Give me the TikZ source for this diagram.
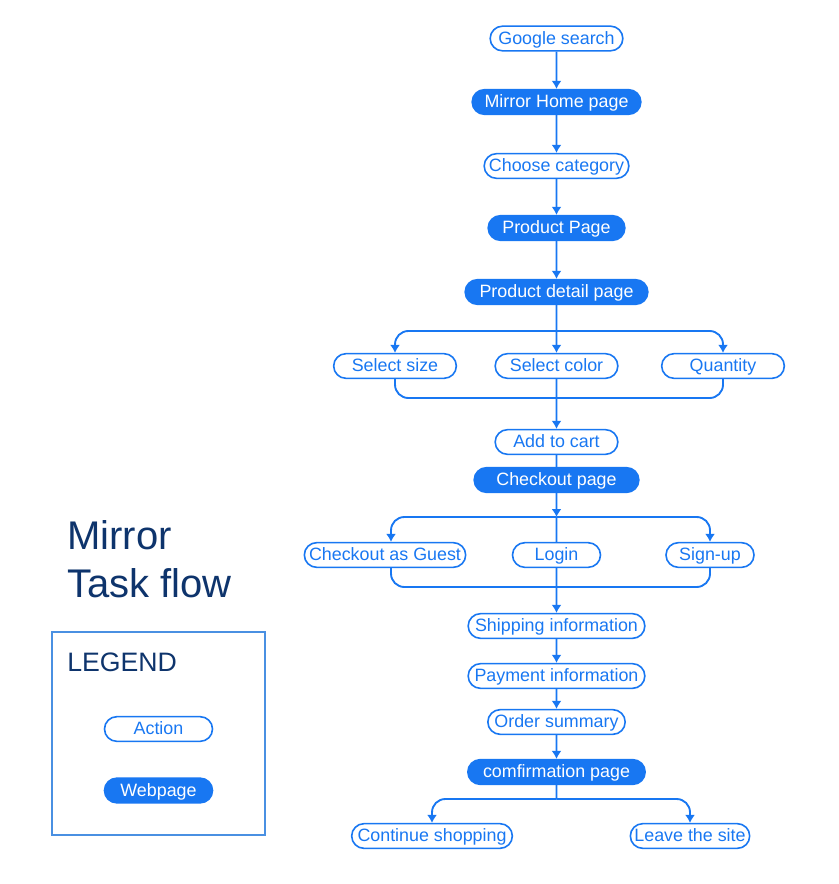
\documentclass[tikz,border=0pt]{standalone}
\usepackage{fontspec}
\setmainfont{Liberation Sans}
\usetikzlibrary{arrows.meta,shapes.misc}

\definecolor{flowblue}{RGB}{24,119,242}
\definecolor{navy}{RGB}{14,52,108}
\definecolor{legendblue}{RGB}{74,144,226}

\begin{document}
\begin{tikzpicture}[x=0.75pt,y=-0.75pt,>={Latex[length=6pt,width=7.5pt]},
    action/.style={rounded rectangle,draw=flowblue,line width=1.2pt,text=flowblue,
      font=\fontsize{13.4}{15}\selectfont,minimum height=18.5pt,inner xsep=2pt,inner ysep=0pt,
      text height=10.5pt,text depth=2pt},
    webpage/.style={action,fill=flowblue,text=white},
    flow/.style={->,flowblue,line width=1.4pt},
    link/.style={flowblue,line width=1.4pt,rounded corners=10pt}]

  \useasboundingbox (0,0) rectangle (838,884);

  % main column
  \node[action,minimum width=103.5pt] (gs) at (556.5,38.5) {Google search};
  \node[webpage,minimum width=130.5pt] (mhp) at (556.5,102) {Mirror Home page};
  \node[action,minimum width=112.5pt] (cc) at (556.5,166) {Choose category};
  \node[webpage,minimum width=106.5pt] (pp) at (556.5,228) {Product Page};
  \node[webpage,minimum width=141pt] (pdp) at (556.5,292) {Product detail page};

  \node[action,minimum width=96pt] (ss) at (395,366) {Select size};
  \node[action,minimum width=96pt] (sc) at (556.5,366) {Select color};
  \node[action,minimum width=96pt] (qt) at (723,366) {Quantity};

  \node[action,minimum width=96pt] (atc) at (556.5,442) {Add to cart};
  \node[webpage,minimum width=127.5pt] (cp) at (556.5,480) {Checkout page};

  \node[action,minimum width=125pt] (cg) at (385,555) {Checkout as Guest};
  \node[action,minimum width=70pt] (login) at (556.5,555) {Login};
  \node[action,minimum width=70pt] (su) at (710,555) {Sign-up};

  \node[action,minimum width=136.5pt] (ship) at (556.5,626) {Shipping information};
  \node[action,minimum width=136.5pt] (pay) at (556.5,676) {Payment information};
  \node[action,minimum width=107pt] (os) at (556.5,722) {Order summary};
  \node[webpage,minimum width=137pt] (conf) at (556.5,772) {comfirmation page};

  \node[action,minimum width=124.5pt] (cs) at (432,836) {Continue shopping};
  \node[action,minimum width=93.5pt] (lts) at (690,836) {Leave the site};

  \coordinate (split1) at (556.5,331);
  \coordinate (join1) at (556.5,398);
  \coordinate (split2) at (556.5,517);
  \coordinate (join2) at (556.5,587);
  \coordinate (split3) at (556.5,799);

  \path[flow]
    (gs) edge (mhp)
    (mhp) edge (cc)
    (cc) edge (pp)
    (pp) edge (pdp)
    (pdp) edge (sc)
    (sc) edge (atc)
    (cp) edge (split2)
    (login) edge (ship)
    (ship) edge (pay)
    (pay) edge (os)
    (os) edge (conf);

  \draw[flow,rounded corners=10pt] (split1) -| (ss);
  \draw[flow,rounded corners=10pt] (split1) -| (qt);
  \draw[link] (ss) |- (join1) -| (qt);

  \draw[link] (atc) -- (cp);
  \draw[link] (split2) -- (login);
  \draw[flow,rounded corners=10pt] (split2) -| ([xshift=4.5pt]cg.north);
  \draw[flow,rounded corners=10pt] (split2) -| (su);
  \draw[link] ([xshift=4.5pt]cg.south) |- (join2) -| (su);

  \draw[link] (conf) -- (split3);
  \draw[flow,rounded corners=10pt] (split3) -| (cs);
  \draw[flow,rounded corners=10pt] (split3) -| (lts);

  % title and legend
  \node[anchor=base west,inner sep=0pt,text=navy,font=\fontsize{30}{36}\selectfont] (title1) at (67,549) {Mirror};
  \node[anchor=base west,inner sep=0pt,text=navy,font=\fontsize{30}{36}\selectfont] (title2) at (67,597) {Task flow};

  \node[draw=legendblue,line width=0.8pt,minimum width=159.75pt,minimum height=152.25pt,inner sep=0pt] (legend) at (158.5,733.5) {};
  \node[anchor=base west,inner sep=0pt,text=navy,font=\fontsize{20}{24}\selectfont] (legendtitle) at (67,671) {LEGEND};
  \node[action,minimum width=85pt] (act) at (158.5,729) {Action};
  \node[webpage,minimum width=85pt] (web) at (158.5,790.5) {Webpage};
\end{tikzpicture}
\end{document}
